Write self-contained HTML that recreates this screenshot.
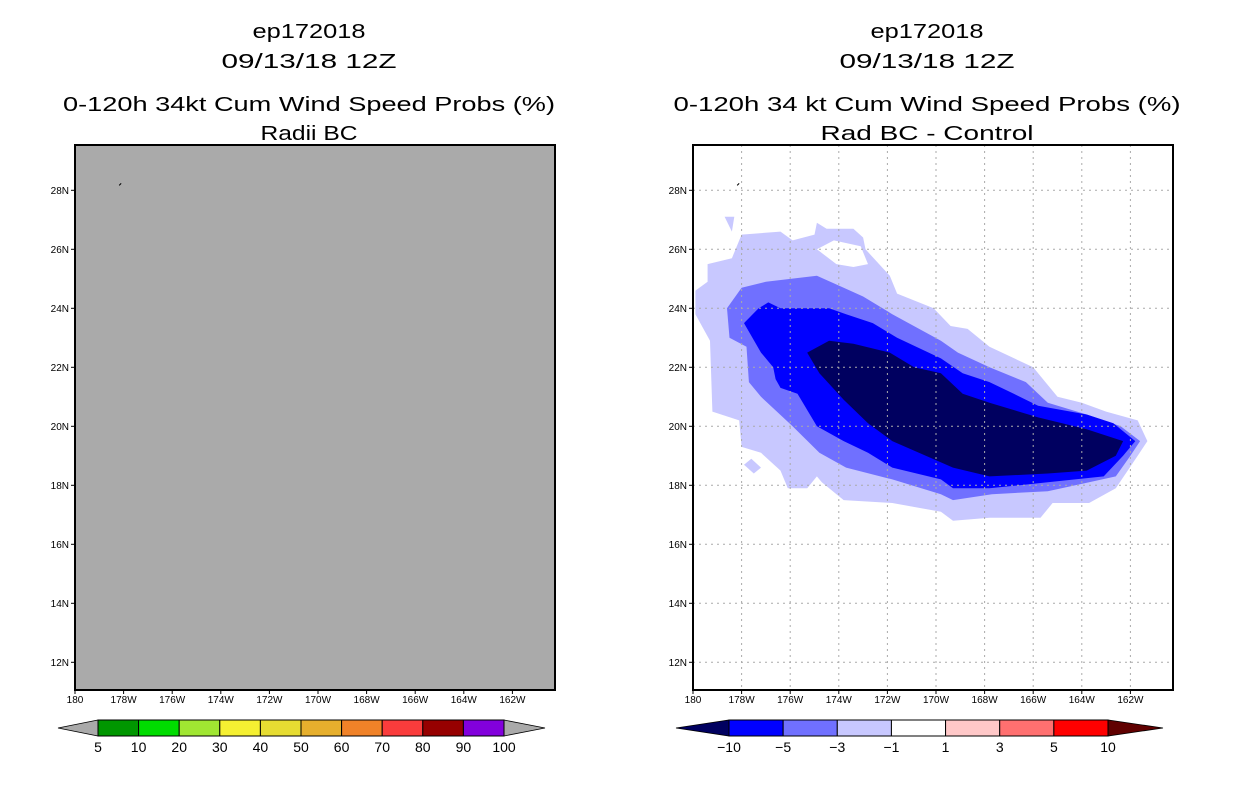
<!DOCTYPE html>
<html><head><meta charset="utf-8"><style>
html,body{margin:0;padding:0;background:#fff;}
svg{display:block;font-family:"Liberation Sans",sans-serif;}
</style></head><body>
<svg id="fig" width="1236" height="800" viewBox="0 0 1236 800">
<rect width="1236" height="800" fill="#fff"/>
<g id="titles">
<text x="309" y="38" font-size="20" text-anchor="middle" textLength="113" lengthAdjust="spacingAndGlyphs">ep172018</text>
<text x="309" y="68" font-size="20" text-anchor="middle" textLength="175" lengthAdjust="spacingAndGlyphs">09/13/18 12Z</text>
<text x="309" y="111" font-size="20" text-anchor="middle" textLength="492" lengthAdjust="spacingAndGlyphs">0-120h 34kt Cum Wind Speed Probs (%)</text>
<text x="309" y="140" font-size="20" text-anchor="middle" textLength="97" lengthAdjust="spacingAndGlyphs">Radii BC</text>
<text x="927" y="38" font-size="20" text-anchor="middle" textLength="113" lengthAdjust="spacingAndGlyphs">ep172018</text>
<text x="927" y="68" font-size="20" text-anchor="middle" textLength="175" lengthAdjust="spacingAndGlyphs">09/13/18 12Z</text>
<text x="927" y="111" font-size="20" text-anchor="middle" textLength="507" lengthAdjust="spacingAndGlyphs">0-120h 34 kt Cum Wind Speed Probs (%)</text>
<text x="927" y="140" font-size="20" text-anchor="middle" textLength="213" lengthAdjust="spacingAndGlyphs">Rad BC - Control</text>
</g>
</svg>
<script>
const latTicks = [12,14,16,18,20,22,24,26,28];
const lonTicks = [180,178,176,174,172,170,168,166,164,162];
const leftLevels = ["5","10","20","30","40","50","60","70","80","90","100"];
const leftColors = ["#009600","#00dc00","#a0e632","#f5f032","#e6dc32","#e6af2d","#f08228","#fa3c3c","#960000","#8200dc"];
const rightLevels = ["-10","-5","-3","-1","1","3","5","10"];
const rightColors = ["#0000ff","#7070ff","#c8c8ff","#ffffff","#ffc8c8","#ff7070","#ff0000"];
const rightEndLow = "#000060", rightEndHigh = "#600000";
const c1Lon = [179.9,179.4,179.4,178.4,178.0,176.4,175.9,175.0,174.9,174.5,173.4,173.0,172.9,171.9,171.6,170.1,169.4,168.7,167.8,166.0,165.0,164.0,163.0,161.7,161.3,161.7,162.6,163.7,165.2,165.7,167.8,169.3,169.8,171.8,173.8,174.7,174.9,175.3,176.1,176.4,177.2,178.0,178.1,179.2,179.3,179.9];
const c1Lat = [24.6,24.9,25.5,25.7,26.5,26.6,26.3,26.5,26.9,26.7,26.7,26.4,26.0,25.1,24.5,24.0,23.4,23.3,22.7,22.0,21.0,20.8,20.5,20.2,19.5,19.0,17.9,17.4,17.4,16.9,16.9,16.8,17.1,17.4,17.5,18.1,18.3,17.9,17.9,18.5,19.1,19.3,20.2,20.5,22.9,23.8];
const holeLon = [174.9,174.2,173.1,172.8,173.4,174.1];
const holeLat = [26.0,26.3,26.1,25.5,25.4,25.5];
const isl1Lon = [177.9,177.6,177.2,177.5];
const isl1Lat = [18.7,18.9,18.6,18.4];
const isl2Lon = [178.7,178.3,178.4];
const isl2Lat = [27.1,27.1,26.6];
const c3Lon = [178.6,178.0,177.0,174.9,173.8,173.0,171.8,169.8,169.1,167.8,166.3,165.4,163.8,162.4,161.6,162.0,162.6,163.7,165.4,167.7,169.3,169.8,171.8,173.7,174.8,175.9,177.2,177.7,177.8,178.5];
const c3Lat = [24.0,24.7,24.9,25.1,24.7,24.4,23.8,22.9,22.5,22.0,21.5,20.8,20.4,20.0,19.5,19.0,18.3,18.1,17.8,17.7,17.5,17.7,18.2,18.6,19.1,20.0,21.0,21.5,22.7,23.0];
const c5Lon = [177.9,177.3,176.9,176.4,174.4,173.7,172.6,171.6,169.8,168.9,167.8,166.8,165.8,163.8,162.7,161.8,162.3,163.1,165.4,167.8,169.3,169.8,171.8,172.8,173.8,174.9,175.7,176.4,176.6,176.7,177.2];
const c5Lat = [23.5,24.0,24.2,24.0,24.0,23.8,23.5,23.0,22.3,21.8,21.5,21.1,20.7,20.4,20.1,19.5,19.0,18.3,18.1,17.9,17.9,18.2,18.6,19.1,19.5,20.0,21.1,21.3,21.6,22.0,22.5];
const c10Lon = [175.3,174.4,173.4,171.9,170.9,169.8,168.9,167.8,165.8,163.8,162.3,162.6,163.8,165.4,167.8,169.3,171.8,172.8,173.8,174.8];
const c10Lat = [22.5,22.9,22.8,22.5,22.0,21.8,21.1,20.8,20.3,19.9,19.5,19.0,18.5,18.4,18.3,18.6,19.5,20.1,20.9,21.8];

const NS="http://www.w3.org/2000/svg";
const svg=document.getElementById('fig');
function mk(tag,attrs,parent){const e=document.createElementNS(NS,tag);for(const k in attrs)e.setAttribute(k,attrs[k]);(parent||svg).appendChild(e);return e;}

function panel(x0,name,gray){
  const g=mk('g',{});
  
  
  const X=lonW=>x0+(180-lonW)*24.3;
  const Y=lat=>249.3+(26-lat)*29.5;
  const top=145,bot=690,right=x0+480;
  const bg=mk('rect',{x:x0,y:top,width:480,height:bot-top,fill:gray?'#aaaaaa':'#ffffff'},g);
  
  
  if(!gray){
    const poly=(lons,lats,fill,nm)=>{
      const p=mk('polygon',{points:lons.map((l,i)=>X(l).toFixed(1)+','+Y(lats[i]).toFixed(1)).join(' '),fill:fill},g);
      
      
    };
    poly(c1Lon,c1Lat,'#c8c8ff','contour-minus1');
    poly(holeLon,holeLat,'#ffffff','contour-hole');
    poly(isl1Lon,isl1Lat,'#c8c8ff','contour-island-south');
    poly(isl2Lon,isl2Lat,'#c8c8ff','contour-island-north');
    poly(c3Lon,c3Lat,'#7070ff','contour-minus3');
    poly(c5Lon,c5Lat,'#0000ff','contour-minus5');
    poly(c10Lon,c10Lat,'#000060','contour-minus10');
    latTicks.forEach(l=>{const ln=mk('line',{x1:x0,x2:right,y1:Y(l),y2:Y(l),stroke:'#aaa','stroke-dasharray':'2,4','stroke-width':1},g);
      });
    lonTicks.slice(1).forEach(l=>{const ln=mk('line',{x1:X(l),x2:X(l),y1:top,y2:bot,stroke:'#aaa','stroke-dasharray':'2,4','stroke-width':1},g);
      });
  }
  const dot=mk('line',{x1:X(178.1)-2,y1:Y(28.2)+1,x2:X(178.1),y2:Y(28.2)-1,stroke:'#000','stroke-width':1},g);
  
  const fr=mk('rect',{x:x0,y:top,width:480,height:bot-top,fill:'none',stroke:'#000','stroke-width':2},g);
  
  latTicks.forEach(l=>{
    mk('line',{x1:x0-4,x2:x0,y1:Y(l),y2:Y(l),stroke:'#000'},g);
    const t=mk('text',{x:x0-6,y:Y(l)+3.5,'font-size':10,'text-anchor':'end'},g);
    t.textContent=l+'N';
    
  });
  lonTicks.forEach(l=>{
    mk('line',{x1:X(l),x2:X(l),y1:bot,y2:bot+4,stroke:'#000'},g);
    const t=mk('text',{x:X(l),y:bot+13,'font-size':10,'text-anchor':'middle'},g);
    t.textContent=l===180?'180':l+'W';
    
  });
}
panel(75,'left-map-panel',true);
panel(693,'right-map-panel',false);

function colorbar(x0,x1,tipL,tipR,colors,levels,endL,endR,name){
  const g=mk('g',{});
  
  
  const y0=720,y1=736,ym=728,w=(x1-x0)/colors.length;
  const a=mk('polygon',{points:`${tipL},${ym} ${x0},${y0} ${x0},${y1}`,fill:endL,stroke:'#000','stroke-width':0.8},g);
  
  const b=mk('polygon',{points:`${tipR},${ym} ${x1},${y0} ${x1},${y1}`,fill:endR,stroke:'#000','stroke-width':0.8},g);
  
  colors.forEach((c,i)=>{
    const r=mk('rect',{x:x0+i*w,y:y0,width:w,height:y1-y0,fill:c,stroke:'#000','stroke-width':1},g);
    
  });
  const lw=(x1-x0)/(levels.length-1);
  levels.forEach((l,i)=>{
    const t=mk('text',{x:x0+i*lw,y:752,'font-size':14,'text-anchor':'middle'},g);
    t.textContent=l.replace('-','\u2212');
    
  });
}
colorbar(98,504,58,545,leftColors,leftLevels,'#aaaaaa','#aaaaaa','left-colorbar');
colorbar(729,1108,676,1163,rightColors,rightLevels,rightEndLow,rightEndHigh,'right-colorbar');
</script>
</body></html>
